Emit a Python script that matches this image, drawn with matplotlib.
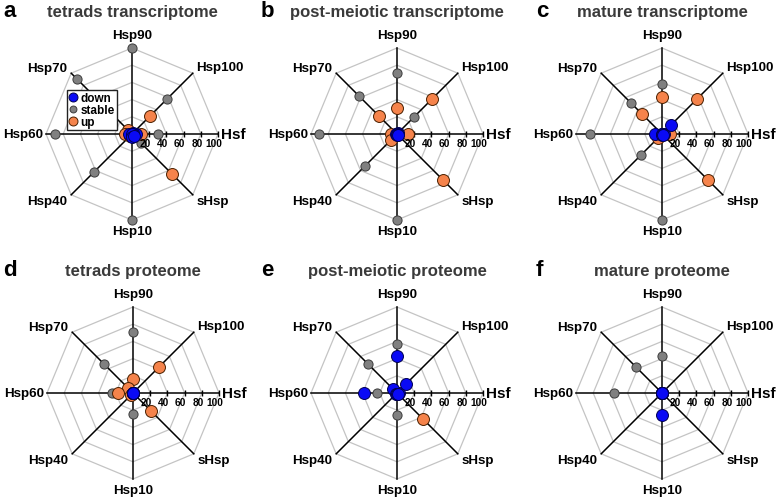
import numpy as np
import matplotlib
matplotlib.use("Agg")
import matplotlib.pyplot as plt
from matplotlib.lines import Line2D

plt.rcParams['font.family'] = ['Liberation Sans', 'DejaVu Sans']

# ---------------- data ----------------
axis_labels = ["Hsf", "Hsp100", "Hsp90", "Hsp70", "Hsp60", "Hsp40", "Hsp10", "sHsp"]
ring_values = [20, 40, 60, 80, 100]
tick_labels = ["20", "40", "60", "80", "100"]
panel_letters = ["a", "b", "c", "d", "e", "f"]
panel_titles = ["tetrads transcriptome", "post-meiotic transcriptome", "mature transcriptome",
                "tetrads proteome", "post-meiotic proteome", "mature proteome"]
series_names = ["down", "stable", "up"]
nan = np.nan

# order: Hsf, Hsp100, Hsp90, Hsp70, Hsp60, Hsp40, Hsp10, sHsp
a_stable = [30, 58, 100, 90, 89, 63, 100, 15]
a_up     = [11, 30, nan, 7, 8, 3, nan, 66]
a_down   = [5, 2, 0, 0, 3, 0, 3, 4]

b_stable = [nan, 28, 71, 63, 91, 53, 100, nan]
b_up     = [13, 58, 30, 29, 7, 10, nan, 76]
b_down   = [1, 1, 0, 0, 1, 0, 1, 1]

c_stable = [nan, nan, 58, 51, 84, 34, 100, nan]
c_up     = [9, 58, 43, 33, nan, 7, nan, 75]
c_down   = [2, 15, 0, 0, 8, 0, 1, 2]

d_stable = [nan, nan, 71, 47, 24, nan, 24, nan]
d_up     = [nan, 42, 16, 8, 18, 4, nan, 29]
d_down   = [0, 0, 0, 0, 0, 0, 0, 0]

e_stable = [nan, nan, 57, 48, 23, nan, 25, nan]
e_up     = [nan, nan, nan, nan, nan, nan, nan, 42]
e_down   = [2, 14, 43, 6, 38, 1, 1, 1]

f_stable = [nan, nan, 43, 42, 56, nan, nan, nan]
f_up     = [nan, nan, nan, nan, nan, nan, nan, nan]
f_down   = [0, 0, 0, 0, 0, 0, 25, 0]

panels_stable = [a_stable, b_stable, c_stable, d_stable, e_stable, f_stable]
panels_up = [a_up, b_up, c_up, d_up, e_up, f_up]
panels_down = [a_down, b_down, c_down, d_down, e_down, f_down]

# ---------------- styles ----------------
W, H = 778, 502
C_DOWN = "#0a0af5"
C_STABLE = "#808080"
C_UP = "#f5834b"
C_GRID = "#c4c4c4"

centers = [(132, 135), (397, 135), (662, 135), (133, 394), (397, 394), (662, 394)]
letter_x = [3, 261, 536, 3, 261, 536]
R = 86  # px radius for value 100

fig = plt.figure(figsize=(W / 100, H / 100), dpi=100)
theta = np.deg2rad(np.arange(0, 360, 45))

# label placement (ha, va, dx, dy) in pixels
label_place = [
    ("left", "center", 3, 0),
    ("left", "center", 3, 6),
    ("center", "bottom", 0, 7),
    ("right", "center", -4, 5),
    ("right", "center", -3, 0),
    ("right", "center", -4, -6),
    ("center", "top", 0, -5),
    ("left", "center", 4, -6),
]

legend_handles = None
for i in range(6):
    cx, cy = centers[i]
    ax = fig.add_axes([(cx - R) / W, (H - cy - R) / H, 2 * R / W, 2 * R / H], projection="polar")
    ax.set_theta_zero_location("E")
    ax.set_ylim(0, 100)
    ax.grid(False)
    ax.set_xticks([])
    ax.set_yticks([])
    ax.spines["polar"].set_visible(False)
    ax.patch.set_visible(False)

    # octagon rings
    tt = np.append(theta, theta[0])
    for v in ring_values:
        ax.plot(tt, [v] * 9, color=C_GRID, lw=0.9, zorder=1, clip_on=False)
    # spokes
    for t in theta:
        ax.plot([t, t], [0, 100], color="black", lw=1.1, zorder=2, clip_on=False)
    # ticks on Hsf axis
    ax.plot([0] * len(ring_values), ring_values, ls="none", marker="|", ms=4.5, mew=1.0,
            color="black", zorder=2, clip_on=False)
    for v, s in zip(ring_values, tick_labels):
        ax.annotate(s, xy=(0, v), xytext=(-4, -12), textcoords="offset pixels",
                    ha="center", va="baseline", fontsize=7.3, fontweight="bold",
                    annotation_clip=False, zorder=6)
    # axis labels
    for k, lab in enumerate(axis_labels):
        ha, va, dx, dy = label_place[k]
        ax.annotate(lab, xy=(theta[k], 100), xytext=(dx, dy), textcoords="offset pixels",
                    ha=ha, va=va, fontsize=11 if lab == "Hsf" else 9.6, fontweight="bold",
                    annotation_clip=False)

    # data
    hs, = ax.plot(theta, panels_stable[i], ls="none", marker="o", ms=6.6, mfc=C_STABLE,
                  mec="#3c3c3c", mew=0.7, zorder=3, clip_on=False)
    hu, = ax.plot(theta, panels_up[i], ls="none", marker="o", ms=8.6, mfc=C_UP,
                  mec="#4a2000", mew=0.7, zorder=4, clip_on=False)
    hd, = ax.plot(theta, panels_down[i], ls="none", marker="o", ms=8.6, mfc=C_DOWN,
                  mec="#000050", mew=0.7, zorder=5, clip_on=False)
    if i == 0:
        legend_handles = [hd, hs, hu]

    # titles and letters
    base_y = cy - 118
    fig.text(cx / W, 1 - base_y / H, panel_titles[i], ha="center", va="baseline",
             fontsize=12, fontweight="bold", color="#3a3a3a")
    fig.text(letter_x[i] / W, 1 - base_y / H, panel_letters[i], ha="left", va="baseline",
             fontsize=16, fontweight="bold", color="black")

leg = fig.legend(legend_handles, series_names, loc="upper left",
                 bbox_to_anchor=(67 / W, 1 - 91 / H), bbox_transform=fig.transFigure,
                 fontsize=8.5, markerscale=0.75, borderpad=0.15, labelspacing=0.0,
                 handlelength=0.7, handletextpad=0.3, borderaxespad=0.0,
                 fancybox=False, framealpha=1, edgecolor="#222222", prop={"weight": "bold", "size": 8.5})
leg.get_frame().set_linewidth(1.0)

fig.savefig("out.png", dpi=100)
